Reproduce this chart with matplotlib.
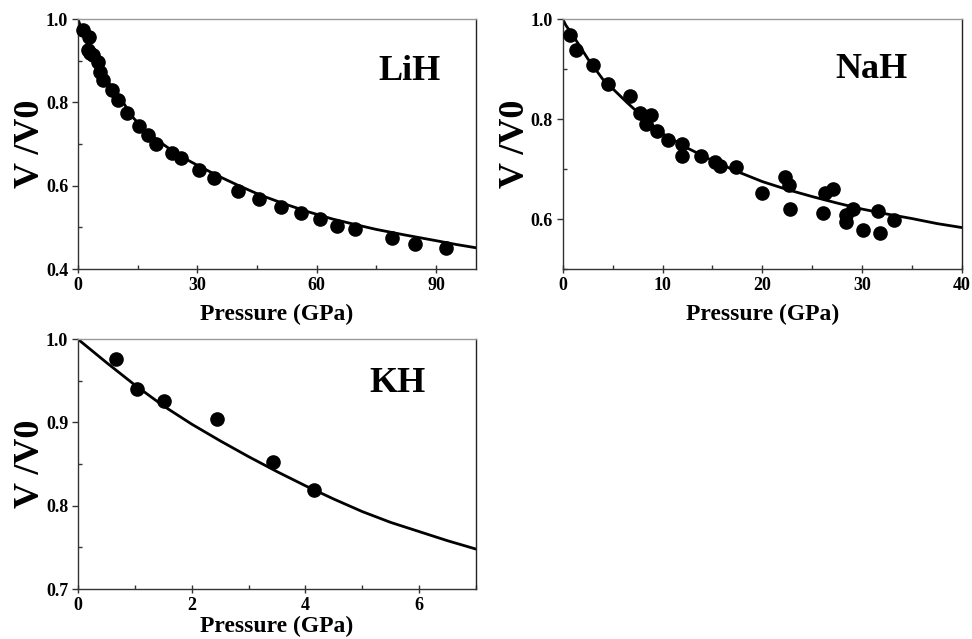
import matplotlib
matplotlib.use("Agg")
import matplotlib.pyplot as plt
from matplotlib.ticker import MultipleLocator

plt.rcParams['font.family'] = ['Liberation Serif', 'DejaVu Serif']
plt.rcParams['font.weight'] = 'bold'

# LiH data points and fitted curve
lih_p = [1.2, 2.8, 2.4, 3.0, 3.8, 5.1, 5.5, 6.3, 8.6, 10.1, 12.4, 15.4, 17.6, 19.7,
         23.6, 26.0, 30.3, 34.3, 40.2, 45.4, 50.9, 56.1, 60.7, 65.2, 69.7, 78.9, 84.7, 92.4]
lih_v = [0.975, 0.956, 0.927, 0.918, 0.914, 0.897, 0.873, 0.854, 0.831, 0.806, 0.775, 0.744,
         0.723, 0.700, 0.679, 0.666, 0.638, 0.618, 0.588, 0.569, 0.550, 0.534, 0.519, 0.504,
         0.496, 0.475, 0.461, 0.450]
lih_fit_p = [0, 0.5, 1, 2.3, 4, 5.6, 7, 9, 11, 14, 17, 20.6, 25, 30.6, 36, 40, 45.7, 52,
             58, 64, 70, 75, 82, 90, 95, 100]
lih_fit_v = [1.0, 0.987, 0.973, 0.942, 0.905, 0.882, 0.858, 0.830, 0.805, 0.762, 0.732, 0.705,
             0.675, 0.646, 0.620, 0.602, 0.578, 0.556, 0.537, 0.520, 0.506, 0.495, 0.482,
             0.468, 0.459, 0.451]

# NaH data points and fitted curve
nah_p = [0.77, 1.3, 3.0, 4.5, 6.7, 7.7, 8.3, 8.8, 9.4, 10.5, 12.0, 12.0, 13.9, 15.3, 15.8,
         17.4, 20.0, 22.3, 22.7, 22.8, 26.1, 26.3, 27.1, 28.4, 28.4, 29.1, 30.1, 31.6, 31.8, 33.2]
nah_v = [0.969, 0.938, 0.908, 0.870, 0.847, 0.813, 0.791, 0.808, 0.777, 0.758, 0.751, 0.727,
         0.727, 0.715, 0.706, 0.705, 0.653, 0.685, 0.668, 0.621, 0.613, 0.653, 0.660, 0.608,
         0.595, 0.621, 0.578, 0.617, 0.573, 0.599]
nah_fit_p = [0, 0.3, 1, 2.5, 4, 5, 6.5, 8, 10, 12.5, 15, 17.5, 20, 22.5, 25, 27.5, 30,
             32.5, 35, 37.5, 40]
nah_fit_v = [1.0, 0.988, 0.968, 0.921, 0.880, 0.861, 0.832, 0.805, 0.771, 0.742, 0.717, 0.695,
             0.675, 0.659, 0.645, 0.632, 0.620, 0.610, 0.601, 0.591, 0.583]

# KH data points and fitted curve
kh_p = [0.67, 1.04, 1.52, 2.44, 3.43, 4.15]
kh_v = [0.976, 0.940, 0.926, 0.904, 0.852, 0.819]
kh_fit_p = [0, 0.5, 1, 1.5, 2, 2.5, 3, 3.5, 4, 4.5, 5, 5.5, 6, 6.5, 7]
kh_fit_v = [1.0, 0.972, 0.945, 0.920, 0.898, 0.878, 0.859, 0.841, 0.824, 0.808, 0.793,
            0.780, 0.769, 0.758, 0.748]

fig = plt.figure(figsize=(9.72, 6.39), dpi=100)

panels = [
    ([0.0802, 0.579, 0.4095, 0.391], lih_p, lih_v, lih_fit_p, lih_fit_v, 'LiH', (0.834, 0.792),
     (0, 100), (0.4, 1.0), 30, 15, 0.2, 0.1, 7),
    ([0.579, 0.579, 0.4105, 0.391], nah_p, nah_v, nah_fit_p, nah_fit_v, 'NaH', (0.774, 0.80),
     (0, 40), (0.5, 1.0), 10, 5, 0.2, 0.1, 7),
    ([0.0802, 0.0782, 0.4095, 0.391], kh_p, kh_v, kh_fit_p, kh_fit_v, 'KH', (0.804, 0.824),
     (0, 7), (0.7, 1.0), 2, 1, 0.1, 0.05, 1),
]

for rect, p, v, fp, fv, name, pos, xl, yl, xmaj, xmin, ymaj, ymin, xpad in panels:
    ax = fig.add_axes(rect)
    ax.plot(fp, fv, color='black', lw=2, zorder=2)
    ax.plot(p, v, 'o', color='black', ms=9.5, zorder=3, clip_on=False)
    ax.set_xlim(*xl)
    ax.set_ylim(*yl)
    ax.xaxis.set_major_locator(MultipleLocator(xmaj))
    ax.xaxis.set_minor_locator(MultipleLocator(xmin))
    ax.yaxis.set_major_locator(MultipleLocator(ymaj))
    ax.yaxis.set_minor_locator(MultipleLocator(ymin))
    ax.tick_params(which='major', direction='inout', length=6, width=1, labelsize=13, pad=3,
                   color='#333333')
    ax.tick_params(which='minor', direction='in', length=3, width=1, color='#333333')
    ax.tick_params(axis='y', which='major', direction='out', length=4)
    for lab in ax.get_xticklabels() + ax.get_yticklabels():
        lab.set_fontweight('bold')
    ax.spines['left'].set_color('#333333')
    ax.spines['bottom'].set_color('#333333')
    ax.spines['top'].set_color('#999999')
    ax.spines['right'].set_color('#222222')
    for s in ax.spines.values():
        s.set_linewidth(1)
    ax.set_xlabel('Pressure (GPa)', fontsize=17, fontweight='bold', labelpad=xpad)
    ax.set_ylabel('V /V0', fontsize=26, fontweight='bold', labelpad=-1)
    ax.text(pos[0], pos[1], name, transform=ax.transAxes, fontsize=26, fontweight='bold',
            ha='center', va='center')

fig.savefig('out.png', dpi=100)
